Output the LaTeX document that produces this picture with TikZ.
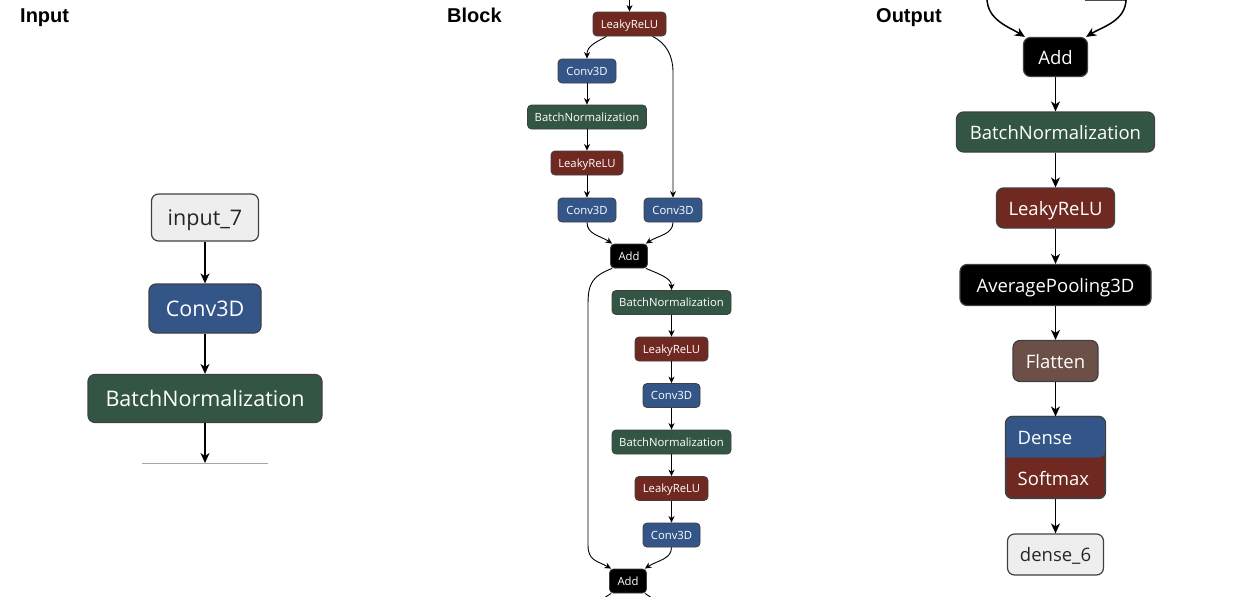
\documentclass[tikz,border=0pt]{standalone}
\usepackage{fontspec}
\usetikzlibrary{arrows.meta}
\newfontfamily\nf{Open Sans}
\newfontfamily\titlefont{Liberation Sans}[BoldFont={Liberation Sans Bold}]
\definecolor{convc}{HTML}{335588}
\definecolor{normc}{HTML}{335544}
\definecolor{actc}{HTML}{702921}
\definecolor{shapec}{HTML}{6C4F47}
\definecolor{ioc}{HTML}{EEEEEE}
\definecolor{edgec}{HTML}{000000}
\tikzset{
  sz/.style 2 args={minimum width=#1pt, minimum height=#2pt},
  nb/.style={draw=black!75, line width=1.2pt, rounded corners=7pt, inner sep=0pt,
    text depth=0pt, text=white},
  big/.style={nb, text height=16pt, font=\nf\fontsize{21.5}{24}\selectfont},
  outf/.style={nb, text height=14pt, font=\nf\fontsize{18.5}{22}\selectfont},
  sm/.style={draw=black!75, line width=0.8pt, rounded corners=4pt, inner sep=0pt,
    text height=8.6pt, text depth=0pt, text=white, font=\nf\fontsize{11.3}{13}\selectfont},
  conv/.style={fill=convc}, norm/.style={fill=normc}, act/.style={fill=actc},
  blk/.style={fill=black}, shp/.style={fill=shapec}, io/.style={fill=ioc, text=black!85},
  bigarr/.style={draw=edgec, line width=1.5pt, -{Stealth[length=10pt,width=9pt,inset=3pt]}},
  smarr/.style={draw=edgec, line width=0.9pt, -{Stealth[length=6.5pt,width=6pt,inset=2pt]}},
  smline/.style={draw=edgec, line width=0.9pt},
  ptitle/.style={font=\titlefont\bfseries\fontsize{20}{24}\selectfont, anchor=base west, inner sep=0pt},
  txtonly/.style={inner sep=0pt, text=white, text height=14pt, text depth=0pt, font=\nf\fontsize{18.5}{22}\selectfont, anchor=west},
}
\begin{document}
\begin{tikzpicture}[x=1pt,y=-1pt]
\useasboundingbox (0,0) rectangle (1240,597);
\fill[white] (0,0) rectangle (1240,597);

% titles
\node[ptitle] (tin) at (20,22) {Input};
\node[ptitle] (tbl) at (447,22) {Block};
\node[ptitle] (tout) at (876,22) {Output};

% ---------------- Input panel ----------------
\node[big, io, sz={107}{47}] (in7) at (205,217.5) {input\_7};
\node[big, conv, sz={112}{49}] (ic) at (205,308.5) {Conv3D};
\node[big, norm, sz={234}{48}] (ibn) at (205,398.5) {BatchNormalization};
\coordinate (icut) at (205,463);
\coordinate (icutl) at (142,463.5);
\coordinate (icutr) at (268,463.5);
\draw[black!35, line width=1pt] (icutl) -- (icutr);
\draw[bigarr] (in7) -- (ic);
\draw[bigarr] (ic) -- (ibn);
\draw[bigarr] (ibn) -- (icut);

% ---------------- Block panel ----------------
\coordinate (btop) at (629.5,-2);
\node[sm, act,  sz={73}{24}]  (lr0) at (629.5,24) {LeakyReLU};
\node[sm, conv, sz={58}{24}]  (c1)  at (587,71) {Conv3D};
\node[sm, norm, sz={119}{24}] (bn1) at (587,117) {BatchNormalization};
\node[sm, act,  sz={72}{24}]  (lr1) at (587,163) {LeakyReLU};
\node[sm, conv, sz={58}{24}]  (c2)  at (587,210) {Conv3D};
\node[sm, conv, sz={58}{24}]  (c3)  at (673,210) {Conv3D};
\node[sm, blk,  sz={37}{24}]  (add1) at (629,256) {Add};
\node[sm, norm, sz={119}{24}] (bn2) at (671.5,302.5) {BatchNormalization};
\node[sm, act,  sz={73}{24}]  (lr2) at (671.5,349) {LeakyReLU};
\node[sm, conv, sz={57}{24}]  (c4)  at (671.5,395.5) {Conv3D};
\node[sm, norm, sz={119}{24}] (bn3) at (671.5,442) {BatchNormalization};
\node[sm, act,  sz={73}{24}]  (lr3) at (671.5,488.5) {LeakyReLU};
\node[sm, conv, sz={57}{24}]  (c5)  at (671.5,535) {Conv3D};
\node[sm, blk,  sz={37}{24}]  (add2) at (628,581) {Add};

\draw[smarr] (btop) -- (lr0);
\draw[smarr] ([xshift=-23pt]lr0.south) .. controls +(-13,7) and +(0,-12) .. (c1.north);
\draw[smarr] ([xshift=23pt]lr0.south) .. controls +(14,7) and +(0,-16) .. (c3.north |- 0,72) -- (c3.north);
\draw[smarr] (c1) -- (bn1);
\draw[smarr] (bn1) -- (lr1);
\draw[smarr] (lr1) -- (c2);
\draw[smarr] (c2.south) .. controls +(0,12) and +(-12,-8) .. ([xshift=2pt]add1.north west);
\draw[smarr] (c3.south) .. controls +(0,12) and +(12,-8) .. ([xshift=-2pt]add1.north east);
\draw[smarr] ([xshift=-2pt]add1.south east) .. controls +(14,6) and +(0,-12) .. (bn2.north);
\draw[smarr] ([xshift=2pt]add1.south west) .. controls +(-20,8) and +(0,-22) .. (588,305)
   -- (588,545) .. controls +(0,16) and +(-14,-8) .. ([xshift=2pt]add2.north west);
\draw[smarr] (bn2) -- (lr2);
\draw[smarr] (lr2) -- (c4);
\draw[smarr] (c4) -- (bn3);
\draw[smarr] (bn3) -- (lr3);
\draw[smarr] (lr3) -- (c5);
\draw[smarr] (c5.south) .. controls +(0,12) and +(12,-8) .. ([xshift=-2pt]add2.north east);
\coordinate (bout1) at (598,602);
\coordinate (bout2) at (658,602);
\draw[smline] ([xshift=2pt]add2.south west) -- (bout1);
\draw[smline] ([xshift=-2pt]add2.south east) -- (bout2);

% ---------------- Output panel ----------------
\coordinate (oinl) at (987,-2);
\coordinate (oinr) at (1126,-1);
\coordinate (oprl) at (1085,0.5);
\coordinate (oprr) at (1127,0.5);
\draw[black!70, line width=1.2pt] (oprl) -- (oprr);
\node[outf, blk,  sz={64}{39}]  (oadd) at (1055.5,57) {Add};
\node[outf, norm, sz={198}{40}] (obn)  at (1055.5,132) {BatchNormalization};
\node[outf, act,  sz={118}{40}] (olr)  at (1055.5,208) {LeakyReLU};
\node[outf, blk,  sz={191}{41}] (oap)  at (1055.5,285) {AveragePooling3D};
\node[outf, shp,  sz={85}{41}]  (ofl)  at (1055.5,361) {Flatten};
\node[outf, act,  sz={99}{81}]  (ods)  at (1055.5,457.5) {};
\fill[convc, rounded corners=6.4pt] ([shift={(0.6pt,0pt)}]ods.west) [sharp corners] -- ([shift={(0.6pt,0pt)}]ods.west)
   [rounded corners=6.4pt] |- ([yshift=0.6pt]ods.north) -| ([xshift=-0.6pt]ods.east) [sharp corners] -- cycle;
\draw[black!75, line width=1.2pt, rounded corners=7pt] (ods.north west) rectangle (ods.south east);
\node[txtonly] (oden) at (1017.5,437.5) {Dense};
\node[txtonly] (osm)  at (1017.5,478) {Softmax};
\node[outf, io,   sz={96}{41}]  (od6)  at (1055.5,554.5) {dense\_6};

\draw[bigarr] (oinl) .. controls +(0,22) and +(-16,-10) .. ([xshift=2pt]oadd.north west);
\draw[bigarr] (oinr) .. controls +(0,22) and +(16,-10) .. ([xshift=-2pt]oadd.north east);
\draw[bigarr] (oadd) -- (obn);
\draw[bigarr] (obn) -- (olr);
\draw[bigarr] (olr) -- (oap);
\draw[bigarr] (oap) -- (ofl);
\draw[bigarr] (ofl) -- (ods);
\draw[bigarr] (ods) -- (od6);
\end{tikzpicture}
\end{document}
